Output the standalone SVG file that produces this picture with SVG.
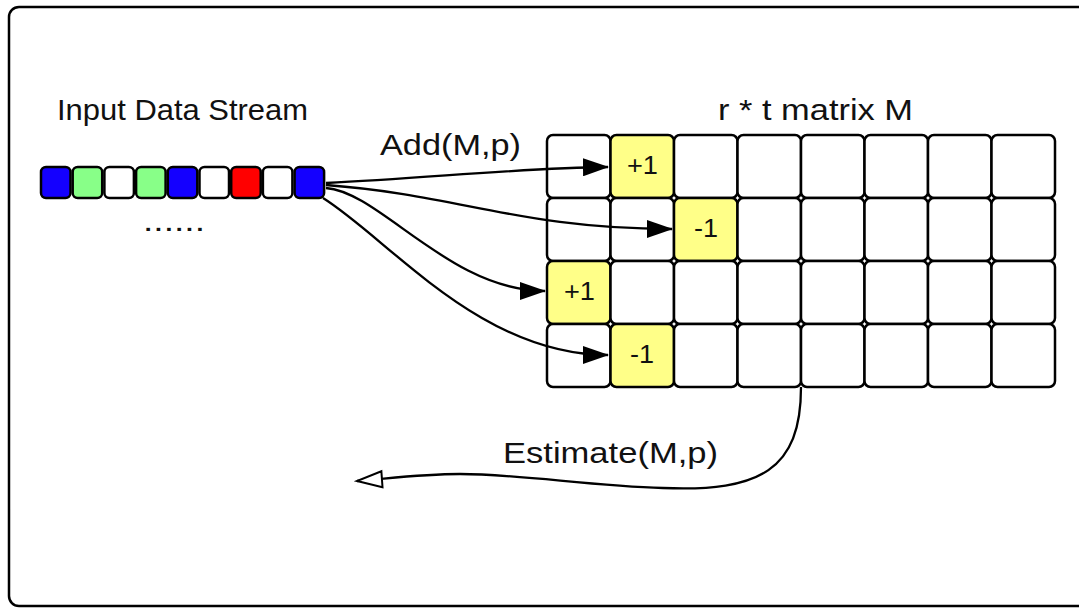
<svg xmlns="http://www.w3.org/2000/svg" width="1079" height="608" viewBox="0 0 1079 608">
<style>
.t{font-family:"Liberation Sans",Arial,sans-serif;fill:#111;}
.big{font-size:29px;}
.small{font-size:26px;}
.sc{stroke:#000;stroke-width:2.5;}
.mc{fill:#fff;stroke:#000;stroke-width:2.5;}
.y{fill:#ffff88;}
.con{fill:none;stroke:#000;stroke-width:2.3;}
</style>
<defs>
<marker id="arr" viewBox="0 0 26 18" refX="25" refY="9" markerWidth="26" markerHeight="18" orient="auto" markerUnits="userSpaceOnUse">
<path d="M0,0 L26,9 L0,18 z" fill="#000"/>
</marker>
<marker id="open" viewBox="0 0 30 20" refX="27" refY="10" markerWidth="30" markerHeight="20" orient="auto" markerUnits="userSpaceOnUse">
<path d="M2,2 L27,10 L2,18 z" fill="#fff" stroke="#000" stroke-width="2"/>
</marker>
</defs>
<rect width="1079" height="608" fill="#fff"/>
<rect id="frame" x="9" y="7" width="1150" height="599" rx="10" fill="#fff" stroke="#000" stroke-width="2.5"/>

<g id="stream-label"><text class="t big" x="57" y="120" textLength="251" lengthAdjust="spacingAndGlyphs">Input Data Stream</text></g>
<g id="stream">
<rect class="sc" x="41" y="167" width="29.5" height="31" rx="5" fill="#1400ff"/>
<rect class="sc" x="72.7" y="167" width="29.5" height="31" rx="5" fill="#88ff88"/>
<rect class="sc" x="104.4" y="167" width="29.5" height="31" rx="5" fill="#fff"/>
<rect class="sc" x="136.1" y="167" width="29.5" height="31" rx="5" fill="#88ff88"/>
<rect class="sc" x="167.8" y="167" width="29.5" height="31" rx="5" fill="#1400ff"/>
<rect class="sc" x="199.5" y="167" width="29.5" height="31" rx="5" fill="#fff"/>
<rect class="sc" x="231.2" y="167" width="29.5" height="31" rx="5" fill="#ff0000"/>
<rect class="sc" x="262.9" y="167" width="29.5" height="31" rx="5" fill="#fff"/>
<rect class="sc" x="294.6" y="167" width="29.5" height="31" rx="5" fill="#1400ff"/>
</g>
<g id="dots"><text class="t big" x="143" y="231" textLength="62" lengthAdjust="spacingAndGlyphs">......</text></g>

<g id="matrix-label"><text class="t big" x="718" y="120" textLength="195" lengthAdjust="spacingAndGlyphs">r * t matrix M</text></g>
<g id="matrix">
<rect class="mc" x="547" y="135" width="63.5" height="63" rx="6"/>
<rect class="mc y" x="610.5" y="135" width="63.5" height="63" rx="6"/>
<rect class="mc" x="674" y="135" width="63.5" height="63" rx="6"/>
<rect class="mc" x="737.5" y="135" width="63.5" height="63" rx="6"/>
<rect class="mc" x="801" y="135" width="63.5" height="63" rx="6"/>
<rect class="mc" x="864.5" y="135" width="63.5" height="63" rx="6"/>
<rect class="mc" x="928" y="135" width="63.5" height="63" rx="6"/>
<rect class="mc" x="991.5" y="135" width="63.5" height="63" rx="6"/>

<rect class="mc" x="547" y="198" width="63.5" height="63" rx="6"/>
<rect class="mc" x="610.5" y="198" width="63.5" height="63" rx="6"/>
<rect class="mc y" x="674" y="198" width="63.5" height="63" rx="6"/>
<rect class="mc" x="737.5" y="198" width="63.5" height="63" rx="6"/>
<rect class="mc" x="801" y="198" width="63.5" height="63" rx="6"/>
<rect class="mc" x="864.5" y="198" width="63.5" height="63" rx="6"/>
<rect class="mc" x="928" y="198" width="63.5" height="63" rx="6"/>
<rect class="mc" x="991.5" y="198" width="63.5" height="63" rx="6"/>

<rect class="mc y" x="547" y="261" width="63.5" height="63" rx="6"/>
<rect class="mc" x="610.5" y="261" width="63.5" height="63" rx="6"/>
<rect class="mc" x="674" y="261" width="63.5" height="63" rx="6"/>
<rect class="mc" x="737.5" y="261" width="63.5" height="63" rx="6"/>
<rect class="mc" x="801" y="261" width="63.5" height="63" rx="6"/>
<rect class="mc" x="864.5" y="261" width="63.5" height="63" rx="6"/>
<rect class="mc" x="928" y="261" width="63.5" height="63" rx="6"/>
<rect class="mc" x="991.5" y="261" width="63.5" height="63" rx="6"/>

<rect class="mc" x="547" y="324" width="63.5" height="63" rx="6"/>
<rect class="mc y" x="610.5" y="324" width="63.5" height="63" rx="6"/>
<rect class="mc" x="674" y="324" width="63.5" height="63" rx="6"/>
<rect class="mc" x="737.5" y="324" width="63.5" height="63" rx="6"/>
<rect class="mc" x="801" y="324" width="63.5" height="63" rx="6"/>
<rect class="mc" x="864.5" y="324" width="63.5" height="63" rx="6"/>
<rect class="mc" x="928" y="324" width="63.5" height="63" rx="6"/>
<rect class="mc" x="991.5" y="324" width="63.5" height="63" rx="6"/>

<text class="t small" x="627" y="174" textLength="31" lengthAdjust="spacingAndGlyphs">+1</text>
<text class="t small" x="694" y="237" textLength="24" lengthAdjust="spacingAndGlyphs">-1</text>
<text class="t small" x="564" y="300" textLength="31" lengthAdjust="spacingAndGlyphs">+1</text>
<text class="t small" x="630" y="363" textLength="24" lengthAdjust="spacingAndGlyphs">-1</text>
</g>

<g id="connectors">
<path class="con" d="M326,183 C430,178 520,168 608,167" marker-end="url(#arr)"/>
<path class="con" d="M326,185 C460,195 520,229 672,229" marker-end="url(#arr)"/>
<path class="con" d="M326,188 C380,192 450,291 545,291" marker-end="url(#arr)"/>
<path class="con" d="M323,198 C390,240 480,355 608,355" marker-end="url(#arr)"/>
<path class="con" d="M801,387 C801,470 760,492 663,488 C590,486 520,474 460,474 C420,474 385,479 357,481" marker-end="url(#open)"/>
</g>
<g id="labels">
<text class="t big" x="380" y="155" textLength="141" lengthAdjust="spacingAndGlyphs">Add(M,p)</text>
<text class="t big" x="503" y="463" textLength="215" lengthAdjust="spacingAndGlyphs">Estimate(M,p)</text>
</g>
</svg>
